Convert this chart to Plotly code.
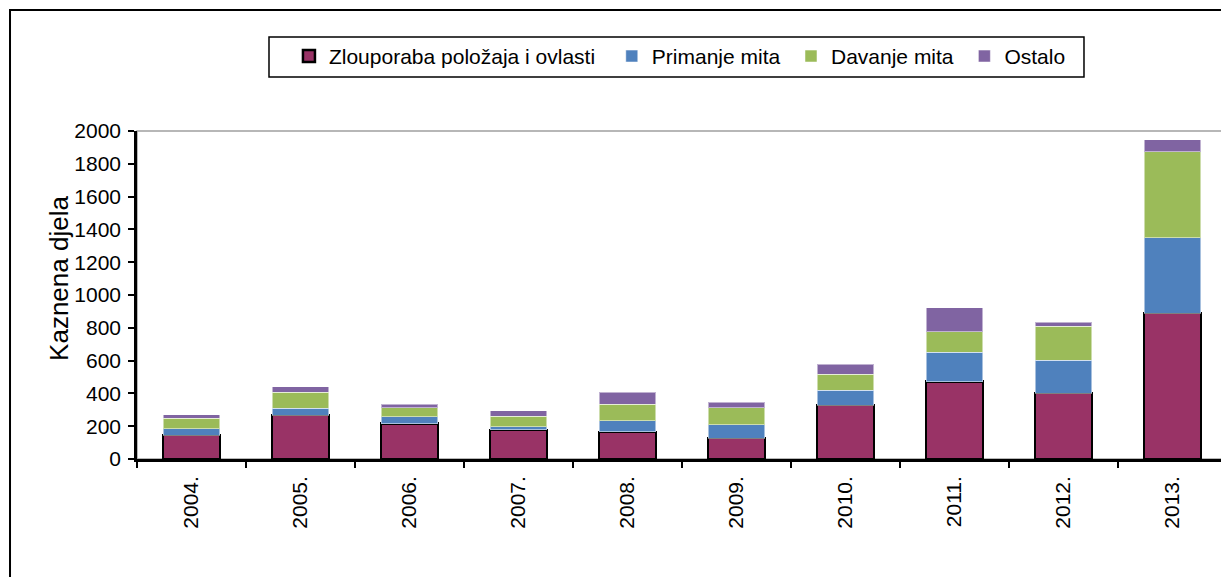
import plotly.graph_objects as go

# ── Data ──────────────────────────────────────────────────────────────────────
years = ["2004.", "2005.", "2006.", "2007.", "2008.",
         "2009.", "2010.", "2011.", "2012.", "2013."]

zlouporaba = [145, 267, 216, 177, 165, 128, 328, 472, 401, 889]
primanje   = [40, 41, 43, 21, 69, 82, 90, 178, 202, 459]
davanje    = [64, 100, 53, 63, 101, 102, 100, 125, 205, 526]
ostalo     = [22, 34, 23, 34, 73, 35, 61, 146, 27, 74]

FONT = "Arial, Liberation Sans, sans-serif"
NB = "\u00a0"  # small spacing pad in legend entries

# ── Figure ────────────────────────────────────────────────────────────────────
fig = go.Figure()
fig.add_trace(go.Bar(
    x=years, y=zlouporaba, name="Zlouporaba položaja i ovlasti" + NB * 2,
    marker=dict(color="#993366", line=dict(color="black", width=2.5)),
))
fig.add_trace(go.Bar(
    x=years, y=primanje, name="Primanje mita" + NB,
    marker=dict(color="#4F81BD", line=dict(color="rgba(255,255,255,0.5)", width=1)),
))
fig.add_trace(go.Bar(
    x=years, y=davanje, name="Davanje mita" + NB,
    marker=dict(color="#9BBB59", line=dict(color="rgba(255,255,255,0.5)", width=1)),
))
fig.add_trace(go.Bar(
    x=years, y=ostalo, name="Ostalo",
    marker=dict(color="#8064A2", line=dict(color="rgba(255,255,255,0.5)", width=1)),
))

fig.update_layout(
    width=1229, height=577,
    barmode="stack", bargap=0.48,
    plot_bgcolor="white", paper_bgcolor="white",
    margin=dict(l=129, r=10, t=123, b=126),
    font=dict(family=FONT, color="black"),
    legend=dict(
        orientation="h",
        x=0.1394, y=1.29, xanchor="left", yanchor="top",
        borderwidth=0, bgcolor="rgba(0,0,0,0)",
        font=dict(size=21, family=FONT),
        traceorder="normal",
    ),
    shapes=[
        # plot frame (grey top/right)
        dict(type="rect", xref="paper", yref="paper", x0=0, x1=1, y0=0, y1=1,
             line=dict(color="#a0a0a0", width=1.5), layer="below"),
        # legend box
        dict(type="rect", xref="paper", yref="paper",
             x0=0.1211, x1=0.8688, y0=1.1646, y1=1.2866,
             line=dict(color="black", width=1.5)),
        # outer chart border
        dict(type="rect", xref="paper", yref="paper",
             x0=-0.1165, x1=1.2, y0=-0.7, y1=1.369,
             line=dict(color="black", width=2)),
    ],
    annotations=[
        dict(text="Kaznena djela", textangle=-90, showarrow=False,
             xref="paper", yref="paper", x=-0.0716, y=0.552,
             xanchor="center", yanchor="middle",
             font=dict(size=26, family=FONT, color="black")),
    ],
)

fig.update_xaxes(
    type="category", tickangle=-90, tickson="boundaries",
    ticks="outside", ticklen=6, tickwidth=1.5, tickcolor="black",
    showline=True, linecolor="black", linewidth=2.5,
    tickfont=dict(size=21), ticklabelstandoff=6,
)
fig.update_yaxes(
    range=[0, 2000], dtick=200,
    ticks="outside", ticklen=6, tickwidth=1.5, tickcolor="black",
    showline=True, linecolor="black", linewidth=2.5,
    showgrid=False, zeroline=False,
    tickfont=dict(size=21), ticklabelstandoff=3,
)

fig.write_html("out.html")
